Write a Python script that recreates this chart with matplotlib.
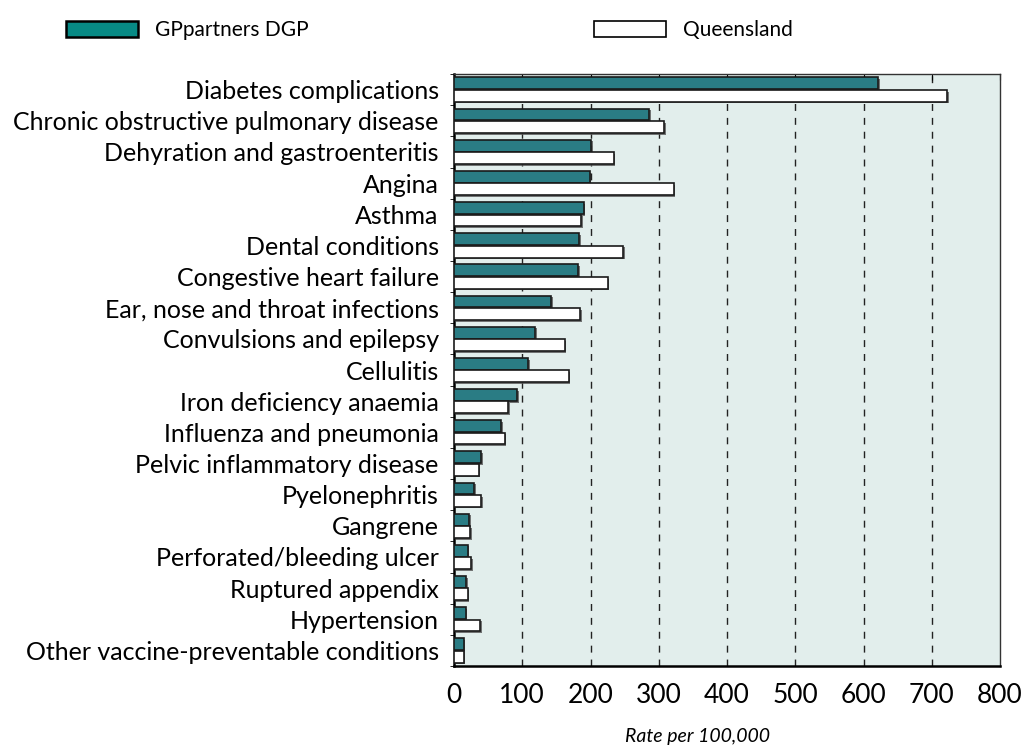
import matplotlib.pyplot as plt
import matplotlib.patheffects as pe
from matplotlib.patches import Patch
import numpy as np

categories = [
    "Diabetes complications",
    "Chronic obstructive pulmonary disease",
    "Dehyration and gastroenteritis",
    "Angina",
    "Asthma",
    "Dental conditions",
    "Congestive heart failure",
    "Ear, nose and throat infections",
    "Convulsions and epilepsy",
    "Cellulitis",
    "Iron deficiency anaemia",
    "Influenza and pneumonia",
    "Pelvic inflammatory disease",
    "Pyelonephritis",
    "Gangrene",
    "Perforated/bleeding ulcer",
    "Ruptured appendix",
    "Hypertension",
    "Other vaccine-preventable conditions",
]
gp_dgp = [621, 286, 201, 199, 190, 183, 182, 142, 119, 109, 93, 69, 40, 30, 22, 20, 18, 17, 14]
queensland = [723, 308, 234, 322, 186, 248, 225, 185, 162, 168, 79, 74, 36, 40, 24, 25, 20, 38, 14]
xticks = [0, 100, 200, 300, 400, 500, 600, 700, 800]

plt.rcParams["font.family"] = ["Lato", "DejaVu Sans"]

fig = plt.figure(figsize=(10.26, 7.47), dpi=100)
ax = fig.add_axes([0.4425, 0.1084, 0.5322, 0.7925])
ax.set_facecolor("#e2eeec")

y = np.arange(len(categories))
h = 0.38
shadow = [pe.SimplePatchShadow(offset=(1.2, -1.2), shadow_rgbFace="#555555", alpha=0.8), pe.Normal()]
b1 = ax.barh(y - 0.2, gp_dgp, height=h, color="#2a7c84", edgecolor="#1a1a1a",
             linewidth=1.2, zorder=3)
b2 = ax.barh(y + 0.2, queensland, height=h, color="white", edgecolor="#1a1a1a",
             linewidth=1.2, zorder=3)
for b in list(b1) + list(b2):
    b.set_path_effects(shadow)

ax.set_ylim(len(categories) - 0.5, -0.5)
ax.set_xlim(0, 800)
ax.set_yticks(y)
ax.set_yticklabels(categories, fontsize=18)
ax.set_yticks(np.arange(len(categories) + 1) - 0.5, minor=True)
ax.tick_params(axis="y", which="major", length=0, pad=11)
ax.tick_params(axis="y", which="minor", length=3, direction="out")

ax.set_xticks(xticks)
ax.set_xticklabels([str(t) for t in xticks], fontsize=19)
ax.tick_params(axis="x", length=0, pad=12)
ax.tick_params(axis="x", which="major", top=True, direction="in", length=4)
ax.tick_params(axis="x", bottom=False)

for t in xticks[1:-1]:
    ax.axvline(t, color="#222222", linestyle=(0, (5, 5)), linewidth=1, zorder=1)

for side in ["left", "bottom"]:
    ax.spines[side].set_linewidth(1.8)
for side in ["top", "right"]:
    ax.spines[side].set_linewidth(1.0)
    ax.spines[side].set_color("#333333")

ax.set_xlabel("Rate per 100,000", fontsize=14, style="italic")
ax.xaxis.set_label_coords(243 / 546, -0.105)

h1 = Patch(facecolor="#078a85", edgecolor="black", linewidth=1.8)
h2 = Patch(facecolor="white", edgecolor="black", linewidth=1.2)
fig.legend(handles=[h1], labels=["GPpartners DGP"], loc="center left",
           bbox_to_anchor=(0.046, 0.96), frameon=False, fontsize=15,
           handlelength=3.46, handleheight=0.8, handletextpad=0.8)
fig.legend(handles=[h2], labels=["Queensland"], loc="center left",
           bbox_to_anchor=(0.561, 0.96), frameon=False, fontsize=15,
           handlelength=3.46, handleheight=0.8, handletextpad=0.8)

fig.savefig("out.png", dpi=100)
